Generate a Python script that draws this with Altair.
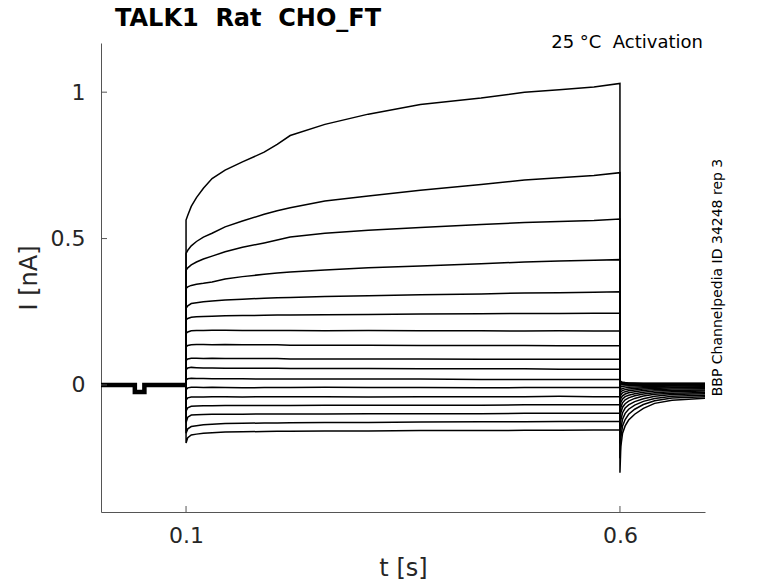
import altair as alt
import pandas as pd

# ---- data ----
# holding period before the step (shared by all sweeps)
pre_t = [0.0, 0.041, 0.041, 0.052, 0.052, 0.1]
pre_I = [0.0, 0.0, -0.024, -0.024, 0.0, 0.0]

# step period sample times [s]
step_t = [0.1, 0.102, 0.106, 0.112, 0.12, 0.13, 0.145, 0.165, 0.19, 0.205, 0.22,
          0.26, 0.31, 0.37, 0.44, 0.49, 0.53, 0.57, 0.6]
# current during the step [nA], one list per sweep (largest first)
step_I = [
    [0.563, 0.58, 0.61, 0.64, 0.672, 0.705, 0.734, 0.762, 0.795, 0.822, 0.852, 0.89, 0.925, 0.958, 0.98, 1.0, 1.008, 1.018, 1.03],
    [0.449, 0.46, 0.475, 0.49, 0.505, 0.518, 0.54, 0.56, 0.583, 0.595, 0.605, 0.628, 0.645, 0.665, 0.685, 0.70, 0.708, 0.715, 0.725],
    [0.392, 0.40, 0.41, 0.42, 0.43, 0.44, 0.455, 0.47, 0.485, 0.495, 0.505, 0.518, 0.528, 0.538, 0.548, 0.555, 0.558, 0.562, 0.567],
    [0.33, 0.335, 0.34, 0.344, 0.347, 0.352, 0.362, 0.37, 0.378, 0.382, 0.386, 0.393, 0.40, 0.406, 0.414, 0.42, 0.423, 0.426, 0.428],
    [0.262, 0.27, 0.278, 0.281, 0.284, 0.287, 0.29, 0.293, 0.296, 0.298, 0.299, 0.302, 0.305, 0.308, 0.311, 0.314, 0.315, 0.317, 0.318],
    [0.222, 0.227, 0.231, 0.233, 0.234, 0.235, 0.236, 0.237, 0.238, 0.239, 0.239, 0.24, 0.241, 0.242, 0.243, 0.244, 0.244, 0.245, 0.245],
    [0.176, 0.181, 0.185, 0.186, 0.186, 0.187, 0.187, 0.186, 0.186, 0.186, 0.186, 0.185, 0.186, 0.185, 0.185, 0.184, 0.185, 0.184, 0.184],
    [0.13, 0.135, 0.137, 0.138, 0.138, 0.137, 0.138, 0.137, 0.137, 0.137, 0.136, 0.136, 0.136, 0.135, 0.135, 0.135, 0.134, 0.134, 0.134],
    [0.084, 0.089, 0.091, 0.091, 0.09, 0.091, 0.09, 0.09, 0.09, 0.09, 0.089, 0.089, 0.089, 0.089, 0.088, 0.088, 0.088, 0.088, 0.088],
    [0.052, 0.058, 0.06, 0.059, 0.058, 0.058, 0.057, 0.057, 0.057, 0.057, 0.056, 0.056, 0.056, 0.055, 0.055, 0.055, 0.054, 0.054, 0.054],
    [0.016, 0.021, 0.023, 0.022, 0.022, 0.021, 0.021, 0.021, 0.02, 0.02, 0.02, 0.02, 0.02, 0.02, 0.019, 0.019, 0.019, 0.019, 0.019],
    [-0.016, -0.01, -0.008, -0.008, -0.009, -0.008, -0.009, -0.01, -0.009, -0.009, -0.009, -0.008, -0.009, -0.009, -0.01, -0.009, -0.009, -0.009, -0.009],
    [-0.052, -0.044, -0.041, -0.041, -0.041, -0.04, -0.04, -0.041, -0.04, -0.04, -0.04, -0.04, -0.041, -0.04, -0.04, -0.04, -0.039, -0.04, -0.04],
    [-0.09, -0.078, -0.073, -0.072, -0.071, -0.071, -0.07, -0.07, -0.07, -0.07, -0.07, -0.069, -0.069, -0.069, -0.069, -0.068, -0.068, -0.068, -0.068],
    [-0.128, -0.11, -0.103, -0.102, -0.101, -0.1, -0.1, -0.1, -0.099, -0.099, -0.099, -0.099, -0.098, -0.098, -0.098, -0.097, -0.097, -0.097, -0.097],
    [-0.165, -0.15, -0.142, -0.139, -0.136, -0.134, -0.132, -0.131, -0.13, -0.13, -0.129, -0.128, -0.128, -0.127, -0.126, -0.126, -0.125, -0.125, -0.125],
    [-0.198, -0.18, -0.171, -0.168, -0.165, -0.163, -0.161, -0.16, -0.159, -0.158, -0.158, -0.157, -0.157, -0.156, -0.156, -0.155, -0.155, -0.154, -0.154],
]

# tail period after the step
tail_t = [0.6, 0.601, 0.603, 0.606, 0.61, 0.617, 0.627, 0.64, 0.66, 0.7]
tail_I = [
    [-0.30, -0.21, -0.165, -0.14, -0.12, -0.1, -0.08, -0.063, -0.052, -0.045],
    [-0.25, -0.18, -0.14, -0.118, -0.1, -0.083, -0.067, -0.054, -0.045, -0.04],
    [-0.2, -0.15, -0.117, -0.097, -0.083, -0.069, -0.056, -0.046, -0.039, -0.035],
    [-0.16, -0.12, -0.095, -0.079, -0.068, -0.057, -0.047, -0.039, -0.033, -0.03],
    [-0.125, -0.095, -0.076, -0.064, -0.055, -0.046, -0.038, -0.032, -0.028, -0.026],
    [-0.1, -0.077, -0.061, -0.051, -0.044, -0.037, -0.031, -0.027, -0.023, -0.021],
    [-0.078, -0.06, -0.048, -0.04, -0.035, -0.03, -0.025, -0.021, -0.019, -0.017],
    [-0.06, -0.046, -0.037, -0.031, -0.027, -0.023, -0.019, -0.016, -0.014, -0.013],
    [-0.045, -0.034, -0.027, -0.023, -0.02, -0.017, -0.014, -0.012, -0.01, -0.009],
    [-0.032, -0.024, -0.019, -0.016, -0.014, -0.012, -0.01, -0.008, -0.007, -0.006],
    [-0.02, -0.015, -0.012, -0.01, -0.008, -0.007, -0.006, -0.005, -0.004, -0.003],
    [-0.01, -0.007, -0.005, -0.004, -0.003, -0.002, -0.002, -0.001, -0.001, 0.0],
    [0.0, 0.0, 0.001, 0.001, 0.001, 0.001, 0.001, 0.002, 0.002, 0.002],
    [0.004, 0.003, 0.003, 0.003, 0.003, 0.003, 0.003, 0.003, 0.003, 0.003],
    [0.008, 0.006, 0.005, 0.005, 0.004, 0.004, 0.004, 0.004, 0.004, 0.004],
    [0.012, 0.009, 0.007, 0.006, 0.006, 0.005, 0.005, 0.005, 0.005, 0.005],
    [0.016, 0.012, 0.009, 0.008, 0.007, 0.007, 0.006, 0.006, 0.006, 0.006],
]

x_ticks = [0.1, 0.6]
y_ticks = [0, 0.5, 1]

# ---- tables ----
rows = []
for k, (s, tl) in enumerate(zip(step_I, tail_I)):
    pts = [(0.1, 0.0)] + list(zip(step_t, s)) + list(zip(tail_t, tl))
    for j, (t, i) in enumerate(pts):
        rows.append({"sweep": k, "seq": j, "t": t, "I": i})
df = pd.DataFrame(rows)
pre_df = pd.DataFrame({"t": pre_t, "I": pre_I, "seq": list(range(len(pre_t)))})

FONT = "DejaVu Sans"
AX = "#555555"
TXT = "#262626"
W, H = 604, 469

xs = alt.Scale(domain=[0.002, 0.698], nice=False, zero=False)
ys = alt.Scale(domain=[-0.434, 1.168], nice=False, zero=False)

common = dict(domainColor=AX, domainWidth=1, ticks=False, grid=False,
              labelFont=FONT, labelFontSize=22, labelColor=TXT,
              titleFont=FONT, titleFontSize=24, titleFontWeight="normal",
              titleColor=TXT, labelFlush=False)
xaxis = alt.Axis(values=x_ticks, format="~g", labelPadding=13, title="t [s]",
                 titleX=W / 2, titleY=63, titleBaseline="alphabetic",
                 titleAlign="center", **common)
yaxis = alt.Axis(values=y_ticks, format="~g", labelPadding=16, title="I [nA]",
                 titleX=-65, titleY=H / 2, titleAngle=270,
                 titleBaseline="alphabetic", titleAlign="center", **common)

traces = alt.Chart(df).mark_line(color="black", strokeWidth=1.5, clip=True).encode(
    x=alt.X("t:Q", scale=xs, axis=xaxis),
    y=alt.Y("I:Q", scale=ys, axis=yaxis),
    detail="sweep:N",
    order="seq:Q",
)

pre = alt.Chart(pre_df).mark_line(color="black", strokeWidth=4.5, clip=True).encode(
    x=alt.X("t:Q", scale=xs, axis=xaxis),
    y=alt.Y("I:Q", scale=ys, axis=yaxis),
    order="seq:Q",
)

ytick = alt.Chart(pd.DataFrame({"I": y_ticks})).mark_rule(color=AX, strokeWidth=1).encode(
    y=alt.Y("I:Q", scale=ys, axis=yaxis), x=alt.value(0), x2=alt.value(6))
xtick = alt.Chart(pd.DataFrame({"t": x_ticks})).mark_rule(color=AX, strokeWidth=1).encode(
    x=alt.X("t:Q", scale=xs, axis=xaxis), y=alt.value(H), y2=alt.value(H - 6))

title = alt.Chart(pd.DataFrame({"s": ["TALK1\u00a0\u00a0Rat\u00a0\u00a0CHO_FT"]})).mark_text(
    align="left", baseline="alphabetic", font=FONT, fontSize=24, fontWeight="bold",
    color="black").encode(x=alt.value(14), y=alt.value(-17), text="s:N")

cond = alt.Chart(pd.DataFrame({"s": ["25 °C\u00a0\u00a0Activation"]})).mark_text(
    align="right", baseline="alphabetic", font=FONT, fontSize=18,
    color="black").encode(x=alt.value(602), y=alt.value(4.5), text="s:N")

side = alt.Chart(pd.DataFrame({"s": ["BBP Channelpedia ID 34248 rep 3"]})).mark_text(
    align="center", baseline="middle", font=FONT, fontSize=14, angle=270,
    color="black").encode(x=alt.value(616.5), y=alt.value(H / 2), text="s:N")

chart = alt.layer(traces, pre, ytick, xtick, title, cond, side).properties(
    width=W, height=H,
    autosize=alt.AutoSizeParams(type="none"),
    padding={"left": 93, "top": 35, "right": 60, "bottom": 68},
    background="white",
).configure_view(stroke=None)

chart.save("out.html", embed_options={"renderer": "svg", "actions": False})
